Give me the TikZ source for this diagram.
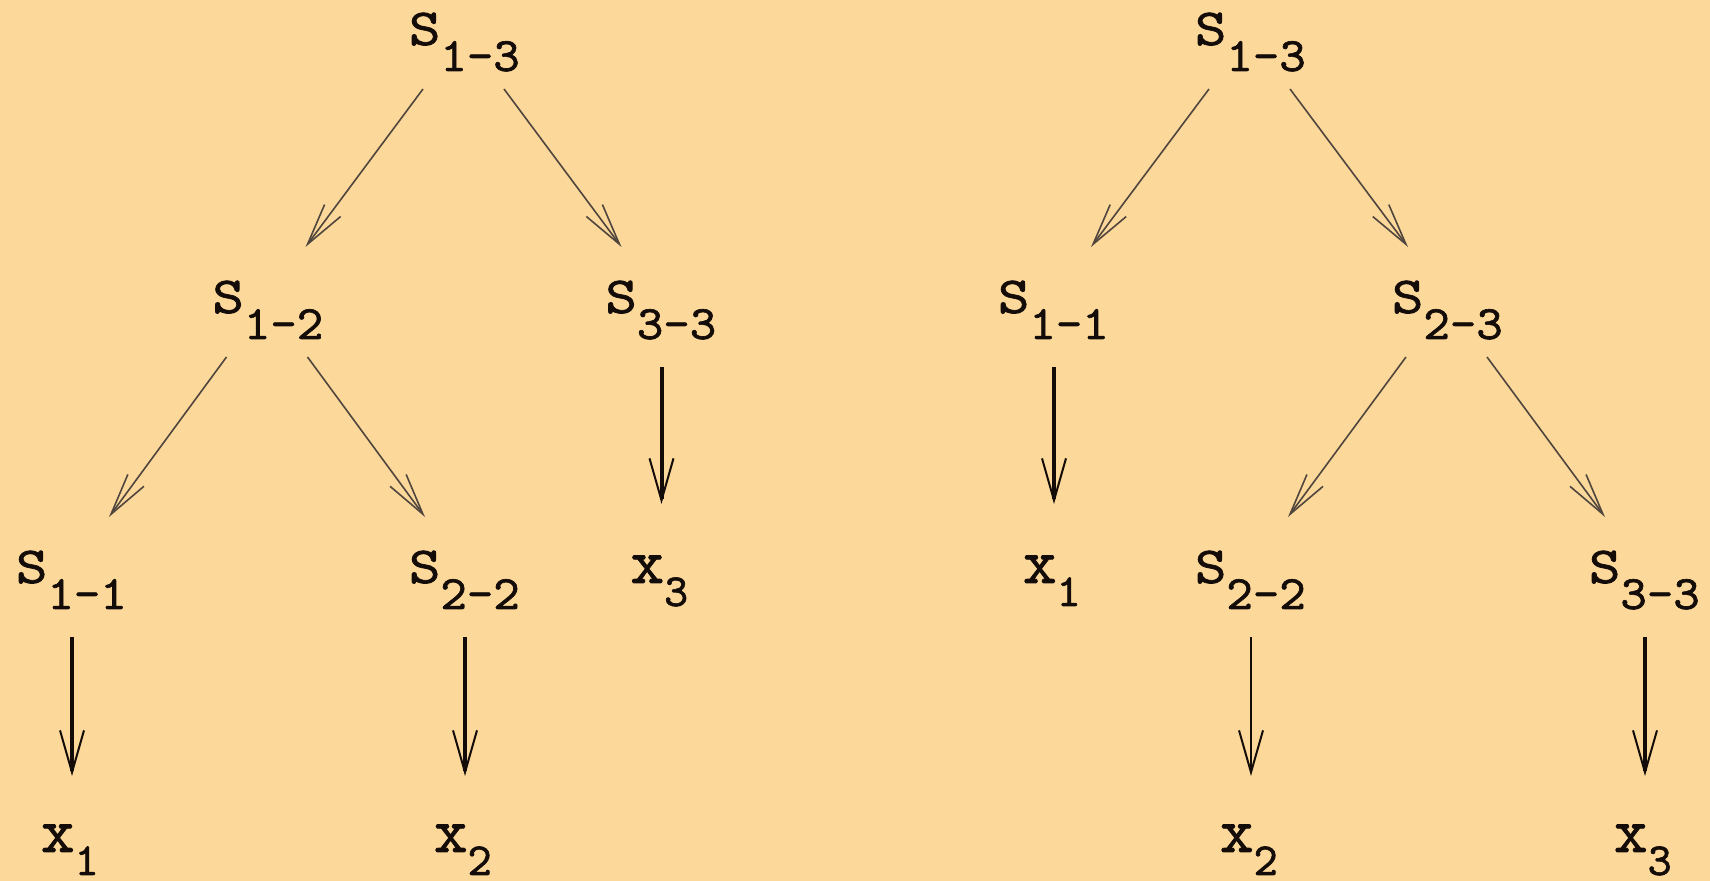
\documentclass[tikz,border=0pt]{standalone}
\usepackage{fontspec}
\usepackage{graphicx}
\usetikzlibrary{arrows.meta}
\newfontfamily\reffont{lmmono10-regular.otf}[FakeBold=1.3]
\definecolor{bg}{RGB}{252,216,154}
\definecolor{ink}{RGB}{20,12,8}
\definecolor{gline}{RGB}{80,70,62}
\newcommand{\Sn}[1]{\scalebox{1.15}[1]{\fontsize{26}{26}\selectfont S}\scalebox{1.05}[1]{\raisebox{-13pt}{\fontsize{24}{24}\selectfont #1}}}
\newcommand{\Xn}[1]{{\fontsize{32}{32}\selectfont x}\raisebox{-11.5pt}{\fontsize{23}{23}\selectfont #1}}
\begin{document}
\begin{tikzpicture}[x=0.5pt,y=-0.5pt,
  lbl/.style={anchor=base west, inner sep=0pt, outer sep=0pt, font=\reffont, text=ink},
  diag/.style={draw=gline, line width=0.8pt, -{Straight Barb[length=21pt,width=10pt]}},
  vthick/.style={draw=ink, line width=2pt, -{Straight Barb[length=21pt,width=12pt,line width=1pt]}},
  vthin/.style={draw=ink, line width=1pt, -{Straight Barb[length=21pt,width=12pt]}}]
\fill[bg] (0,0) rectangle (1710,881);
\useasboundingbox (0,0) rectangle (1710,881);
% left tree
\node[lbl] (L13) at (409,45) {\Sn{1-3}};
\node[lbl] (L12) at (212.5,313) {\Sn{1-2}};
\node[lbl] (L33) at (605.5,313) {\Sn{3-3}};
\node[lbl] (L11) at (16,583) {\Sn{1-1}};
\node[lbl] (L22) at (409,583) {\Sn{2-2}};
\node[lbl] (Lx3) at (630.5,583) {\Xn{3}};
\node[lbl] (Lx1) at (41,852) {\Xn{1}};
\node[lbl] (Lx2) at (434,852) {\Xn{2}};
% right tree
\node[lbl] (R13) at (1195,45) {\Sn{1-3}};
\node[lbl] (R11) at (998,313) {\Sn{1-1}};
\node[lbl] (R23) at (1392,313) {\Sn{2-3}};
\node[lbl] (Rx1) at (1023,583) {\Xn{1}};
\node[lbl] (R22) at (1195,583) {\Sn{2-2}};
\node[lbl] (R33) at (1589,583) {\Sn{3-3}};
\node[lbl] (Rx2) at (1220,852) {\Xn{2}};
\node[lbl] (Rx3) at (1614,852) {\Xn{3}};
% left tree connectors
\draw[diag] ([shift={(14,44)}]L13.base west) -- ([shift={(93,-66)}]L12.base west);
\draw[diag] ([shift={(95,44)}]L13.base west) -- ([shift={(16,-66)}]L33.base west);
\draw[diag] ([shift={(14,44)}]L12.base west) -- ([shift={(93,-66)}]L11.base west);
\draw[diag] ([shift={(95,44)}]L12.base west) -- ([shift={(16,-66)}]L22.base west);
\draw[vthick] ([shift={(56,54)}]L33.base west) -- ([shift={(31,-79)}]Lx3.base west);
\draw[vthick] ([shift={(56,54)}]L11.base west) -- ([shift={(31,-76)}]Lx1.base west);
\draw[vthick] ([shift={(56,54)}]L22.base west) -- ([shift={(31,-76)}]Lx2.base west);
% right tree connectors
\draw[diag] ([shift={(14,44)}]R13.base west) -- ([shift={(93,-66)}]R11.base west);
\draw[diag] ([shift={(95,44)}]R13.base west) -- ([shift={(16,-66)}]R23.base west);
\draw[diag] ([shift={(14,44)}]R23.base west) -- ([shift={(93,-66)}]R22.base west);
\draw[diag] ([shift={(95,44)}]R23.base west) -- ([shift={(16,-66)}]R33.base west);
\draw[vthick] ([shift={(56,54)}]R11.base west) -- ([shift={(31,-79)}]Rx1.base west);
\draw[vthin] ([shift={(56,54)}]R22.base west) -- ([shift={(31,-76)}]Rx2.base west);
\draw[vthick] ([shift={(56,54)}]R33.base west) -- ([shift={(31,-76)}]Rx3.base west);
\end{tikzpicture}
\end{document}
